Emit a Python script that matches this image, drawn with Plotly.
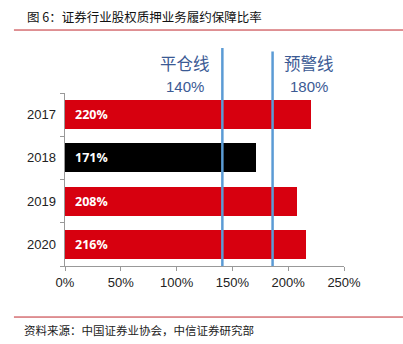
import plotly.graph_objects as go

years = ["2017", "2018", "2019", "2020"]
ratios = [220, 171, 208, 216]
bar_colors = ["#d7000f", "#000000", "#d7000f", "#d7000f"]
x_ticks = [0, 50, 100, 150, 200, 250]
x_ticktext = ["0%", "50%", "100%", "150%", "200%", "250%"]
ref_names = ["平仓线", "预警线"]
ref_labels = ["140%", "180%"]
ref_pos = [141, 186]
ref_tops = [1.26, 1.24]
ref_text_offset = [-33.5, 33]

FONT = "Noto Sans CJK SC"
idx = list(range(len(years)))

fig = go.Figure()
fig.add_trace(go.Bar(
    x=ratios, y=idx, orientation="h",
    marker=dict(color=bar_colors, line=dict(width=0)),
    width=0.67, hoverinfo="skip", yaxis="y",
))
# invisible trace to drive the label axis
fig.add_trace(go.Scatter(x=[0] * len(idx), y=idx, mode="markers",
                         marker=dict(opacity=0), yaxis="y2", hoverinfo="skip",
                         showlegend=False))

shapes = []
annotations = []
for i, v in zip(idx, ratios):
    annotations.append(dict(xref="x", yref="y", x=0, y=i, xanchor="left",
                            yanchor="middle", xshift=8, text=f"<b>{v}%</b>",
                            showarrow=False,
                            font=dict(size=12.5, color="white", family="Open Sans")))
for name, lab, pos, top, off in zip(ref_names, ref_labels, ref_pos, ref_tops, ref_text_offset):
    shapes.append(dict(type="line", xref="x", yref="paper", x0=pos, x1=pos,
                       y0=0, y1=top, line=dict(color="#5b9bd5", width=2.5)))
    annotations.append(dict(xref="x", yref="paper", x=pos + off, y=1.173,
                            xanchor="center", yanchor="middle",
                            text=name, showarrow=False,
                            font=dict(size=16.5, color="#3b5a94", family=FONT)))
    annotations.append(dict(xref="x", yref="paper", x=pos + off, y=1.036,
                            xanchor="center", yanchor="middle",
                            text=lab, showarrow=False,
                            font=dict(size=15, color="#3b5a94", family="Liberation Sans")))

# footer
annotations.append(dict(xref="paper", yref="paper", x=-0.155, y=-0.37, xanchor="left",
                        yanchor="middle", text="资料来源：中国证券业协会，中信证券研究部",
                        showarrow=False, font=dict(size=11.5, color="#222", family=FONT)))
shapes.append(dict(type="line", xref="paper", yref="paper", x0=-0.183, x1=1.22,
                   y0=1.364, y1=1.364, line=dict(color="#c0282d", width=1)))
shapes.append(dict(type="line", xref="paper", yref="paper", x0=-0.183, x1=1.22,
                   y0=-0.295, y1=-0.295, line=dict(color="#c0282d", width=1)))

fig.update_layout(
    width=403, height=344,
    margin=dict(l=65, r=59, t=93, b=78),
    paper_bgcolor="white", plot_bgcolor="white",
    showlegend=False, bargap=0,
    font=dict(family="Liberation Sans", color="#222"),
    title=dict(text="图 6：证券行业股权质押业务履约保障比率",
               xref="container", yref="container", x=27 / 403, xanchor="left",
               y=1 - 18 / 344, yanchor="middle",
               font=dict(size=12.5, color="#111", family=FONT)),
    xaxis=dict(range=[0, 250], tickvals=x_ticks, ticktext=x_ticktext,
               showgrid=False, zeroline=False, showline=True, linecolor="#999",
               linewidth=1, ticks="outside", ticklen=4, tickcolor="#999",
               tickfont=dict(size=13, color="#222"), fixedrange=True),
    yaxis=dict(range=[3.5, -0.5], tickvals=[-0.5, 0.5, 1.5, 2.5, 3.5],
               showticklabels=False, showgrid=False, zeroline=False,
               showline=True, linecolor="#999", linewidth=1,
               ticks="outside", ticklen=4, tickcolor="#999"),
    yaxis2=dict(range=[3.5, -0.5], overlaying="y", side="left",
                tickvals=idx, ticktext=years, ticks="", showgrid=False,
                zeroline=False, showline=False, ticklabelstandoff=8,
                tickfont=dict(size=13, color="#222")),
    shapes=shapes, annotations=annotations,
)

fig.write_html("out.html")
